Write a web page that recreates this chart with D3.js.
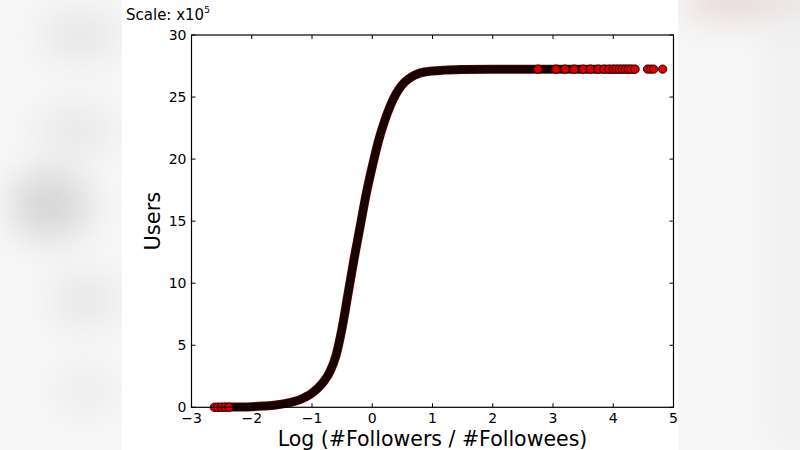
<!DOCTYPE html>
<html><head><meta charset="utf-8">
<script src="https://cdn.jsdelivr.net/npm/d3@7"></script>
<style>html,body{margin:0;padding:0;background:#fff;}svg{display:block;font-family:"DejaVu Sans",sans-serif;}</style>
</head><body><svg id="c" width="800" height="450"></svg>
<script>
// CDF of log(followers/followees); y in units of 1e5 users
const curveX = [-2.6,-2.3,-2.0,-1.8,-1.6,-1.375,-1.2,-1.1,-1.0,-0.9,-0.8,-0.7,-0.6,-0.5,-0.4,-0.3,-0.2,-0.1,0.0,0.1,0.2,0.3,0.4,0.5,0.6,0.7,0.8,1.0,1.2,1.5,2.0,2.5,3.0,3.5,4.0,4.36];
const curveY = [0.0,0.02,0.05,0.1,0.18,0.37,0.62,0.85,1.15,1.55,2.1,2.9,4.2,6.4,9.2,12.0,14.6,17.2,19.4,21.4,23.0,24.3,25.3,26.0,26.45,26.75,26.95,27.1,27.17,27.22,27.25,27.25,27.25,27.25,27.25,27.25];
const tailX = [-2.62,-2.56,-2.5,-2.44,-2.38,2.75,3.05,3.2,3.35,3.5,3.62,3.75,3.85,3.93,4.0,4.05,4.1,4.15,4.2,4.25,4.3,4.36,4.57,4.62,4.67,4.82];
const tailY = [0.0,0.0,0.0,0.01,0.01,27.25,27.25,27.25,27.25,27.25,27.25,27.25,27.25,27.25,27.25,27.25,27.25,27.25,27.25,27.25,27.25,27.25,27.25,27.25,27.25,27.25];
const xTicks = [-3,-2,-1,0,1,2,3,4,5];
const yTicks = [0,5,10,15,20,25,30];
const xLabel = "Log (#Followers / #Followees)";
const yLabel = "Users";

const svg = d3.select("#c");
const defs = svg.append("defs");
defs.append("filter").attr("id","blur").attr("x","-50%").attr("y","-50%").attr("width","200%").attr("height","200%")
  .append("feGaussianBlur").attr("stdDeviation",18);

// blurred background strips
svg.append("rect").attr("x",0).attr("y",0).attr("width",800).attr("height",450).attr("fill","#f7f7f7");
const bg = svg.append("g").attr("filter","url(#blur)");
[[80,35,40,25,"#e6e6e6"],[75,130,40,25,"#e8e8e8"],[50,205,40,35,"#d6d6d6"],[85,300,35,25,"#e6e6e6"],[85,390,30,25,"#ececec"]]
  .forEach(d=>bg.append("ellipse").attr("cx",d[0]).attr("cy",d[1]).attr("rx",d[2]).attr("ry",d[3]).attr("fill",d[4]));
bg.append("rect").attr("x",690).attr("y",-20).attr("width",130).attr("height",38).attr("fill","#e6d6d6");
bg.append("rect").attr("x",770).attr("y",0).attr("width",40).attr("height",450).attr("fill","#efefef");
svg.append("rect").attr("x",122).attr("y",0).attr("width",556).attr("height",450).attr("fill","#fff");

const L=191.5,R=673.5,T=35,B=407.3;
const x = d3.scaleLinear().domain([-3,5]).range([L,R]);
const y = d3.scaleLinear().domain([0,30]).range([B,T]);

// dense marker band
const line = d3.line().x((d,i)=>x(curveX[i])).y((d,i)=>y(curveY[i])).curve(d3.curveMonotoneX);
svg.append("path").datum(curveX).attr("d",line).attr("fill","none")
  .attr("stroke","#5a0a0a").attr("stroke-width",9).attr("stroke-linecap","round");
svg.append("path").datum(curveX).attr("d",line).attr("fill","none")
  .attr("stroke","#1a0202").attr("stroke-width",7.5).attr("stroke-linecap","round");

// sparse markers
svg.append("g").selectAll("circle").data(tailX).join("circle")
  .attr("cx",d=>x(d)).attr("cy",(d,i)=>y(tailY[i])).attr("r",4.2)
  .attr("fill","#d80000").attr("stroke","#200000").attr("stroke-width",0.9);

// frame
svg.append("rect").attr("x",L).attr("y",T).attr("width",R-L).attr("height",B-T)
  .attr("fill","none").attr("stroke","#000").attr("stroke-width",1.2);

// inward ticks on all sides
const tk = svg.append("g").attr("stroke","#000").attr("stroke-width",1);
xTicks.forEach(t=>{ tk.append("line").attr("x1",x(t)).attr("x2",x(t)).attr("y1",B).attr("y2",B-4);
  tk.append("line").attr("x1",x(t)).attr("x2",x(t)).attr("y1",T).attr("y2",T+4);});
yTicks.forEach(t=>{ tk.append("line").attr("x1",L).attr("x2",L+4).attr("y1",y(t)).attr("y2",y(t));
  tk.append("line").attr("x1",R).attr("x2",R-4).attr("y1",y(t)).attr("y2",y(t));});

const fmt = v => (v<0?"\u2212":"")+Math.abs(v);
svg.append("g").selectAll("text").data(xTicks).join("text")
  .attr("x",d=>x(d)).attr("y",B+16).attr("text-anchor","middle").attr("font-size",14).text(fmt);
svg.append("g").selectAll("text").data(yTicks).join("text")
  .attr("x",L-5).attr("y",d=>y(d)+5).attr("text-anchor","end").attr("font-size",14).text(d=>d);

svg.append("text").attr("x",(L+R)/2).attr("y",446).attr("text-anchor","middle").attr("font-size",20.5).text(xLabel);
svg.append("text").attr("transform","translate(160,"+((T+B)/2)+") rotate(-90)").attr("text-anchor","middle")
  .attr("font-size",21).text(yLabel);

const sc = svg.append("text").attr("x",126).attr("y",20).attr("font-size",15);
sc.append("tspan").text("Scale: x10");
sc.append("tspan").attr("dy",-7).attr("font-size",9).text("5");
</script></body></html>
